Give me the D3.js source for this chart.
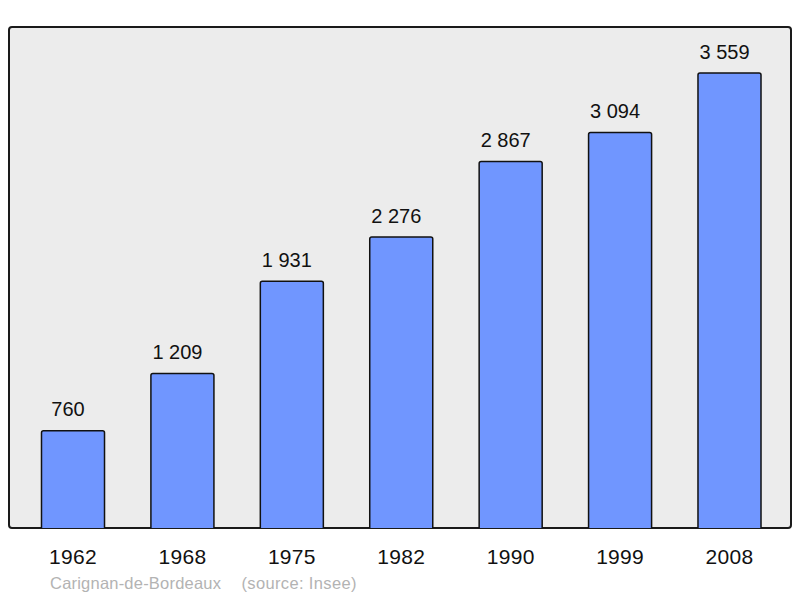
<!DOCTYPE html>
<html><head><meta charset="utf-8">
<script src="https://cdn.jsdelivr.net/npm/d3@7"></script>
<style>body{margin:0;background:#fff}svg{display:block;font-family:"Liberation Sans",Arial,sans-serif}</style>
</head><body><svg id="c" width="800" height="598"></svg>
<script>
const years = ["1962","1968","1975","1982","1990","1999","2008"];
const population = [760,1209,1931,2276,2867,3094,3559];
const valueLabels = ["760","1 209","1 931","2 276","2 867","3 094","3 559"];
const captionName = "Carignan-de-Bordeaux";
const captionSource = "(source: Insee)";

const svg = d3.select("#c");
const panel = {x0:9, x1:791, y0:27, y1:528};

svg.append("rect").attr("x",panel.x0).attr("y",panel.y0)
  .attr("width",panel.x1-panel.x0).attr("height",panel.y1-panel.y0)
  .attr("rx",3).attr("fill","#ececec").attr("stroke","#1a1a1a").attr("stroke-width",2);

const x = d3.scaleBand().domain(years).range([18.3,784.2]).paddingInner(0.424).paddingOuter(0.212);
const y = d3.scaleLinear().domain([0,3911]).range([528,28]);

const g = svg.append("g");
years.forEach((yr,i)=>{
  const x0 = x(yr), w = x.bandwidth(), top = y(population[i]), bot = y(0), r = 2;
  g.append("path")
    .attr("d",`M${x0},${bot} L${x0},${top+r} Q${x0},${top} ${x0+r},${top} L${x0+w-r},${top} Q${x0+w},${top} ${x0+w},${top+r} L${x0+w},${bot}`)
    .attr("fill","#7096ff").attr("stroke","#111").attr("stroke-width",1.5);
  g.append("text").attr("x",x0+w/2-5).attr("y",top-14.5).attr("text-anchor","middle")
    .attr("font-size",20).attr("fill","#111").text(valueLabels[i]);
});

const xAxis = svg.append("g").attr("transform","translate(0,528)")
  .call(d3.axisBottom(x).tickSize(0).tickPadding(21));
xAxis.select(".domain").remove();
xAxis.selectAll("text").attr("font-size",21).attr("fill","#111").attr("letter-spacing",0.3)
  .attr("font-family","'Liberation Sans',Arial,sans-serif");

svg.append("text").attr("x",50).attr("y",589).attr("font-size",16.5).attr("fill","#b3b3b3")
  .attr("textLength",171).attr("lengthAdjust","spacing").text(captionName);
svg.append("text").attr("x",241.5).attr("y",589).attr("font-size",16.5).attr("fill","#b3b3b3")
  .attr("textLength",115).attr("lengthAdjust","spacing").text(captionSource);
</script></body></html>
